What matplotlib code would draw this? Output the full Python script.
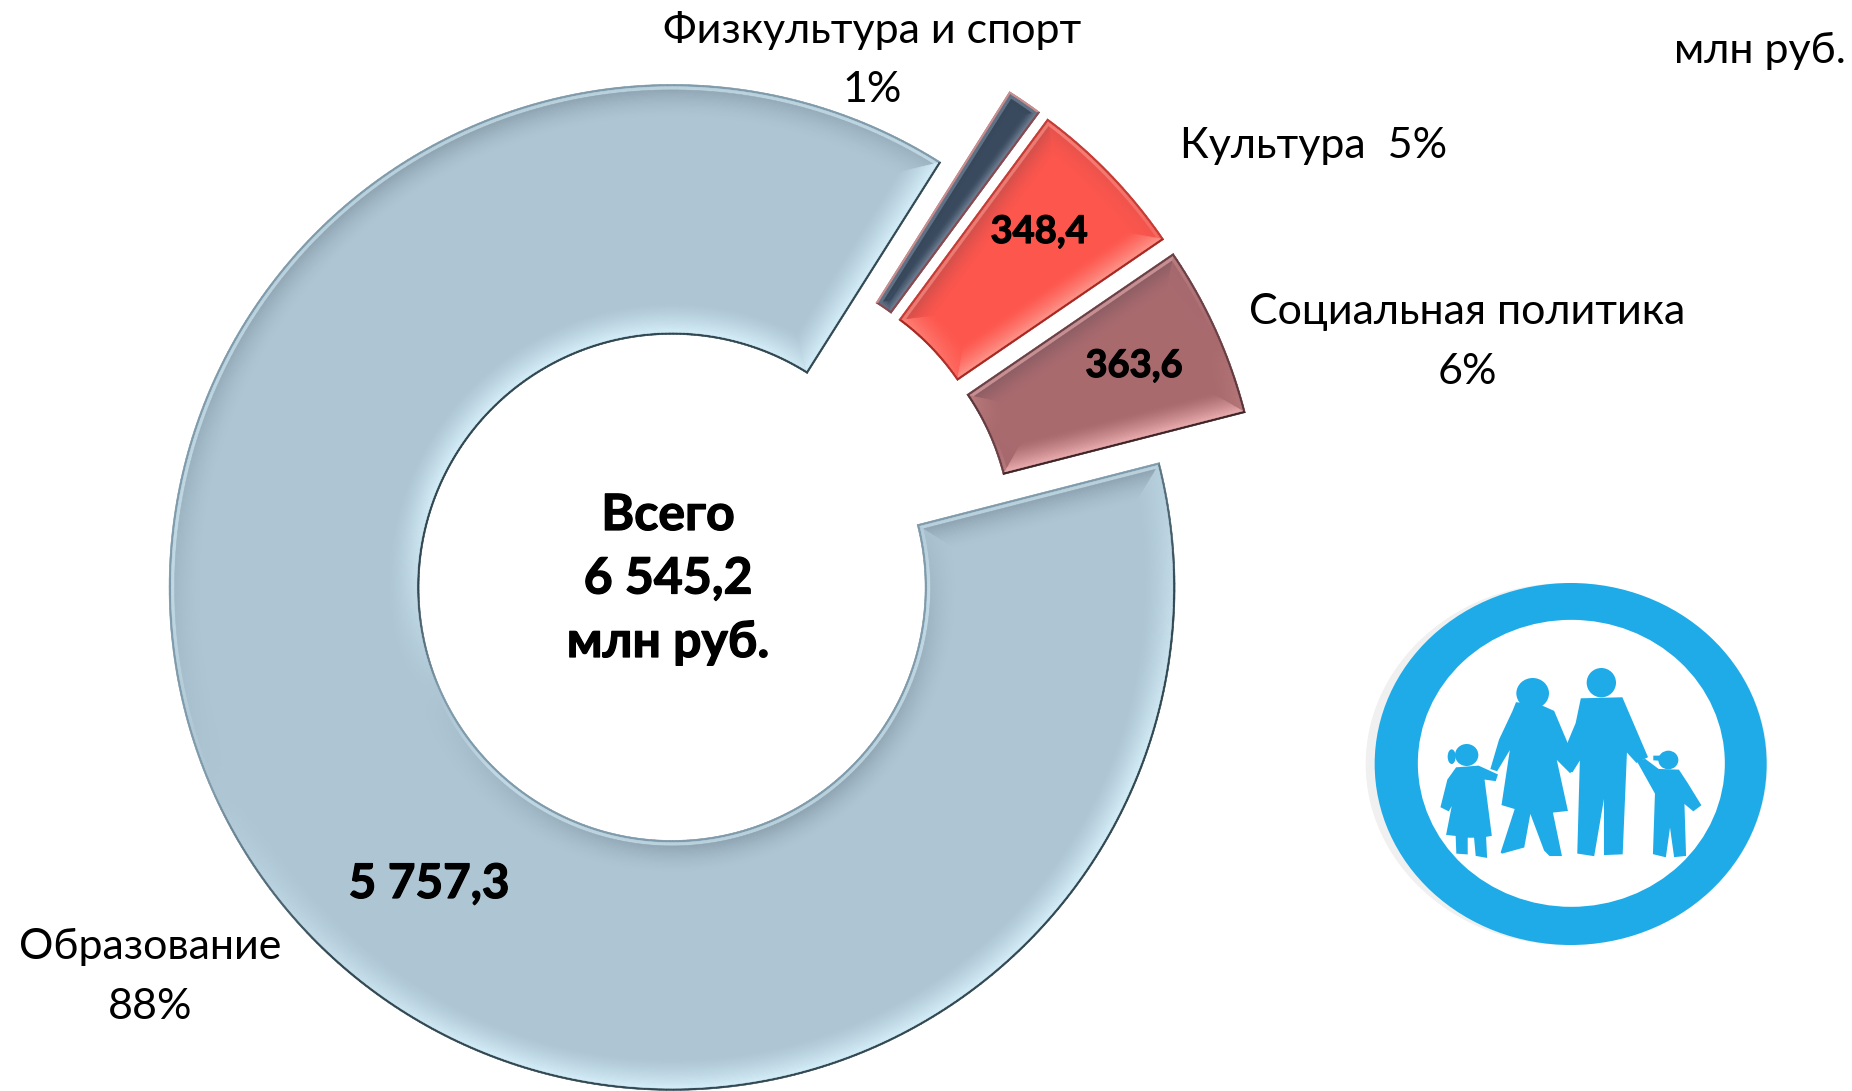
import numpy as np
import matplotlib
matplotlib.use('Agg')
import matplotlib.pyplot as plt
import matplotlib.patheffects as pe
from matplotlib.collections import PolyCollection
from matplotlib.colors import to_rgb
from matplotlib.patches import Ellipse, Polygon

plt.rcParams['font.family'] = ['Lato', 'Open Sans', 'DejaVu Sans']

W, H = 1852, 1091

# data
categories = ['Образование', 'Социальная политика', 'Культура', 'Физкультура и спорт']
values = [5757.3, 363.6, 348.4, 75.9]
value_labels = ['5 757,3', '363,6', '348,4']
name_labels = ['Образование\n88%', 'Социальная политика\n6%', 'Культура  5%', 'Физкультура и спорт\n1%']
total_label = 'Всего\n6 545,2\nмлн руб.'
unit_label = 'млн руб.'
colors = ['#AEC6D4', '#A96A6E', '#FD564D', '#3A4A5E']
lit_edges = ['#2F4550', '#3A2326', '#A52822', '#8A4A50']
shadow_edges = ['#7F9AAA', '#6A4045', '#C43C35', '#D09090']
lights = ['#D8F2FC', '#F2B4B6', '#FF9A90', '#7F90A6']
depths = [32, 27, 27, 11]

fig = plt.figure(figsize=(W / 100, H / 100), dpi=100)
ax = fig.add_axes([0, 0, 1, 1])

# all four slices are pulled out a little, like in the original
wedges, _ = ax.pie(values, colors=colors, startangle=57.7, counterclock=True,
                   radius=503, center=(712.5, H - 558), explode=[50] * 4,
                   wedgeprops={'width': 250, 'edgecolor': 'none'}, frame=True)
ax.set_xlim(0, W)
ax.set_ylim(0, H)
ax.set_aspect('equal')
ax.axis('off')


def mix(c, other, a):
    return tuple((1 - a) * x + a * y for x, y in zip(c, other))


def shade(nx, ny, d, depth, base, light, lit_edge, shadow_edge):
    # light comes from below right
    s = nx * 0.4 + ny * -0.92
    if d < 2.2:
        return mix(shadow_edge, lit_edge, np.clip(s * 2.5, 0, 1))
    t = min(d / depth, 1)
    if s > 0:
        return mix(base, light, min(1, s * 1.4) * (1 - t) ** 1.3)
    col = mix(base, (0.15, 0.2, 0.25), 0.3 * -s * (1 - t) ** 1.5)
    if d < 5:
        col = mix(col, light, 0.6 * np.clip(-s * 2.5, 0, 1))
    return col


def bevel(w, base, light, lit_edge, shadow_edge, depth):
    cx, cy = w.center
    r1, r0 = w.r, w.r - w.width
    t1, t2 = np.radians(w.theta1), np.radians(w.theta2)
    polys, cols = [], []
    dd = 1.1
    steps = int(depth / dd)

    def add(quad, nx, ny, d):
        polys.append(quad)
        cols.append(shade(nx, ny, d, depth, base, light, lit_edge, shadow_edge))

    for k in range(steps):
        d0, d1 = k * dd, (k + 1) * dd
        # arcs
        for side in (1, -1):
            rho0 = r1 - d0 if side == 1 else r0 + d0
            rho1 = r1 - d1 if side == 1 else r0 + d1
            a00, a01 = t1 + np.arcsin(d0 / rho0), t2 - np.arcsin(d0 / rho0)
            a10, a11 = t1 + np.arcsin(d1 / rho1), t2 - np.arcsin(d1 / rho1)
            n = max(6, int((t2 - t1) * 70))
            for i in range(n):
                f0, f1 = i / n, (i + 1) / n
                p = [(rho0, a00 + (a01 - a00) * f0), (rho0, a00 + (a01 - a00) * f1),
                     (rho1, a10 + (a11 - a10) * f1), (rho1, a10 + (a11 - a10) * f0)]
                quad = [(cx + r * np.cos(a), cy + r * np.sin(a)) for r, a in p]
                am = a00 + (a01 - a00) * (f0 + f1) / 2
                add(quad, side * np.cos(am), side * np.sin(am), d0)
        # straight sides
        for ang, sgn in ((t1, 1), (t2, -1)):
            pts = []
            for d in (d0, d1):
                pts.append([(cx + r * np.cos(ang + sgn * np.arcsin(d / r)),
                             cy + r * np.sin(ang + sgn * np.arcsin(d / r))) for r in (r0 + d, r1 - d)])
            quad = [pts[0][0], pts[0][1], pts[1][1], pts[1][0]]
            nang = ang - sgn * np.pi / 2
            add(quad, np.cos(nang), np.sin(nang), d0)
    ax.add_collection(PolyCollection(polys, facecolors=cols, edgecolors=cols, linewidths=0.4, zorder=3))


for i, w in enumerate(wedges):
    bevel(w, to_rgb(colors[i]), to_rgb(lights[i]), to_rgb(lit_edges[i]), to_rgb(shadow_edges[i]), depths[i])

# texts
size = 31
heavy = [pe.withStroke(linewidth=0.9, foreground='black')]
ax.text(872, H - 60, name_labels[3], fontsize=size, ha='center', va='center', linespacing=1.68)
ax.text(1314, H - 146, name_labels[2], fontsize=size, ha='center', va='center')
ax.text(1467, H - 342, name_labels[1], fontsize=size, ha='center', va='center', linespacing=1.68)
ax.text(150, H - 977, name_labels[0], fontsize=size, ha='center', va='center', linespacing=1.68)
ax.text(1760, H - 51, unit_label, fontsize=size, ha='center', va='center')
ax.text(1039, H - 232, value_labels[2], fontsize=27.4, fontweight='bold', ha='center', va='center', zorder=5, path_effects=heavy)
ax.text(1134, H - 366, value_labels[1], fontsize=27.4, fontweight='bold', ha='center', va='center', zorder=5, path_effects=heavy)
ax.text(429, H - 884, value_labels[0], fontsize=34.3, fontweight='bold', ha='center', va='center', zorder=5, path_effects=heavy)
ax.text(668, H - 579, total_label, fontsize=36, fontweight='bold', ha='center', va='center', linespacing=1.5, path_effects=heavy)


# family logo, outline points read in a 3x crop of the picture
def lx(x):
    return 1350 + x / 3


def ly(y):
    return H - (560 + y / 3)


blue = '#1EABE8'
ax.add_patch(Ellipse((lx(650), ly(612)), 402, 362, fc='#F0F0F0', ec='none', zorder=2))
ax.add_patch(Ellipse((lx(662), ly(612)), 392, 362, fc=blue, ec='none', zorder=3))
ax.add_patch(Ellipse((lx(664), ly(610)), 307, 287, fc='white', ec='none', zorder=3))

man = [(695, 418), (815, 415), (890, 590), (860, 605), (828, 570), (815, 880), (765, 882), (765, 680),
       (730, 885), (685, 878), (693, 590), (665, 635), (655, 550), (680, 490)]
woman = [(490, 455), (500, 430), (565, 435), (610, 455), (650, 550), (690, 590), (660, 635), (615, 590), (650, 750),
         (605, 755), (632, 885), (600, 885), (585, 870), (540, 750), (520, 860), (455, 878), (498, 745),
         (458, 733), (485, 555), (440, 630), (425, 625), (450, 540)]
girl = [(320, 625), (385, 620), (440, 645), (435, 660), (400, 655), (422, 825), (405, 828), (408, 890),
        (380, 885), (375, 830), (350, 830), (350, 880), (322, 878), (320, 825), (292, 822), (312, 720),
        (295, 750), (275, 740), (295, 660)]
boy = [(865, 605), (885, 600), (925, 630), (985, 632), (1010, 670), (1050, 735), (1030, 750), (1000, 725),
       (1005, 885), (975, 888), (960, 780), (945, 888), (912, 880), (918, 700), (890, 650)]
cap = [(913, 590), (940, 590), (940, 600), (913, 598)]
for shape in (man, woman, girl, boy, cap):
    ax.add_patch(Polygon([(lx(x), ly(y)) for x, y in shape], fc=blue, ec=blue, lw=1.5, zorder=4))
heads = [(754, 368, 88, 88), (548, 400, 98, 92), (350, 585, 70, 66), (955, 600, 60, 56), (305, 590, 24, 44)]
for x, y, a, b in heads:
    ax.add_patch(Ellipse((lx(x), ly(y)), a / 3, b / 3, fc=blue, ec='none', zorder=4))

fig.savefig('out.png', dpi=100, facecolor='white')
